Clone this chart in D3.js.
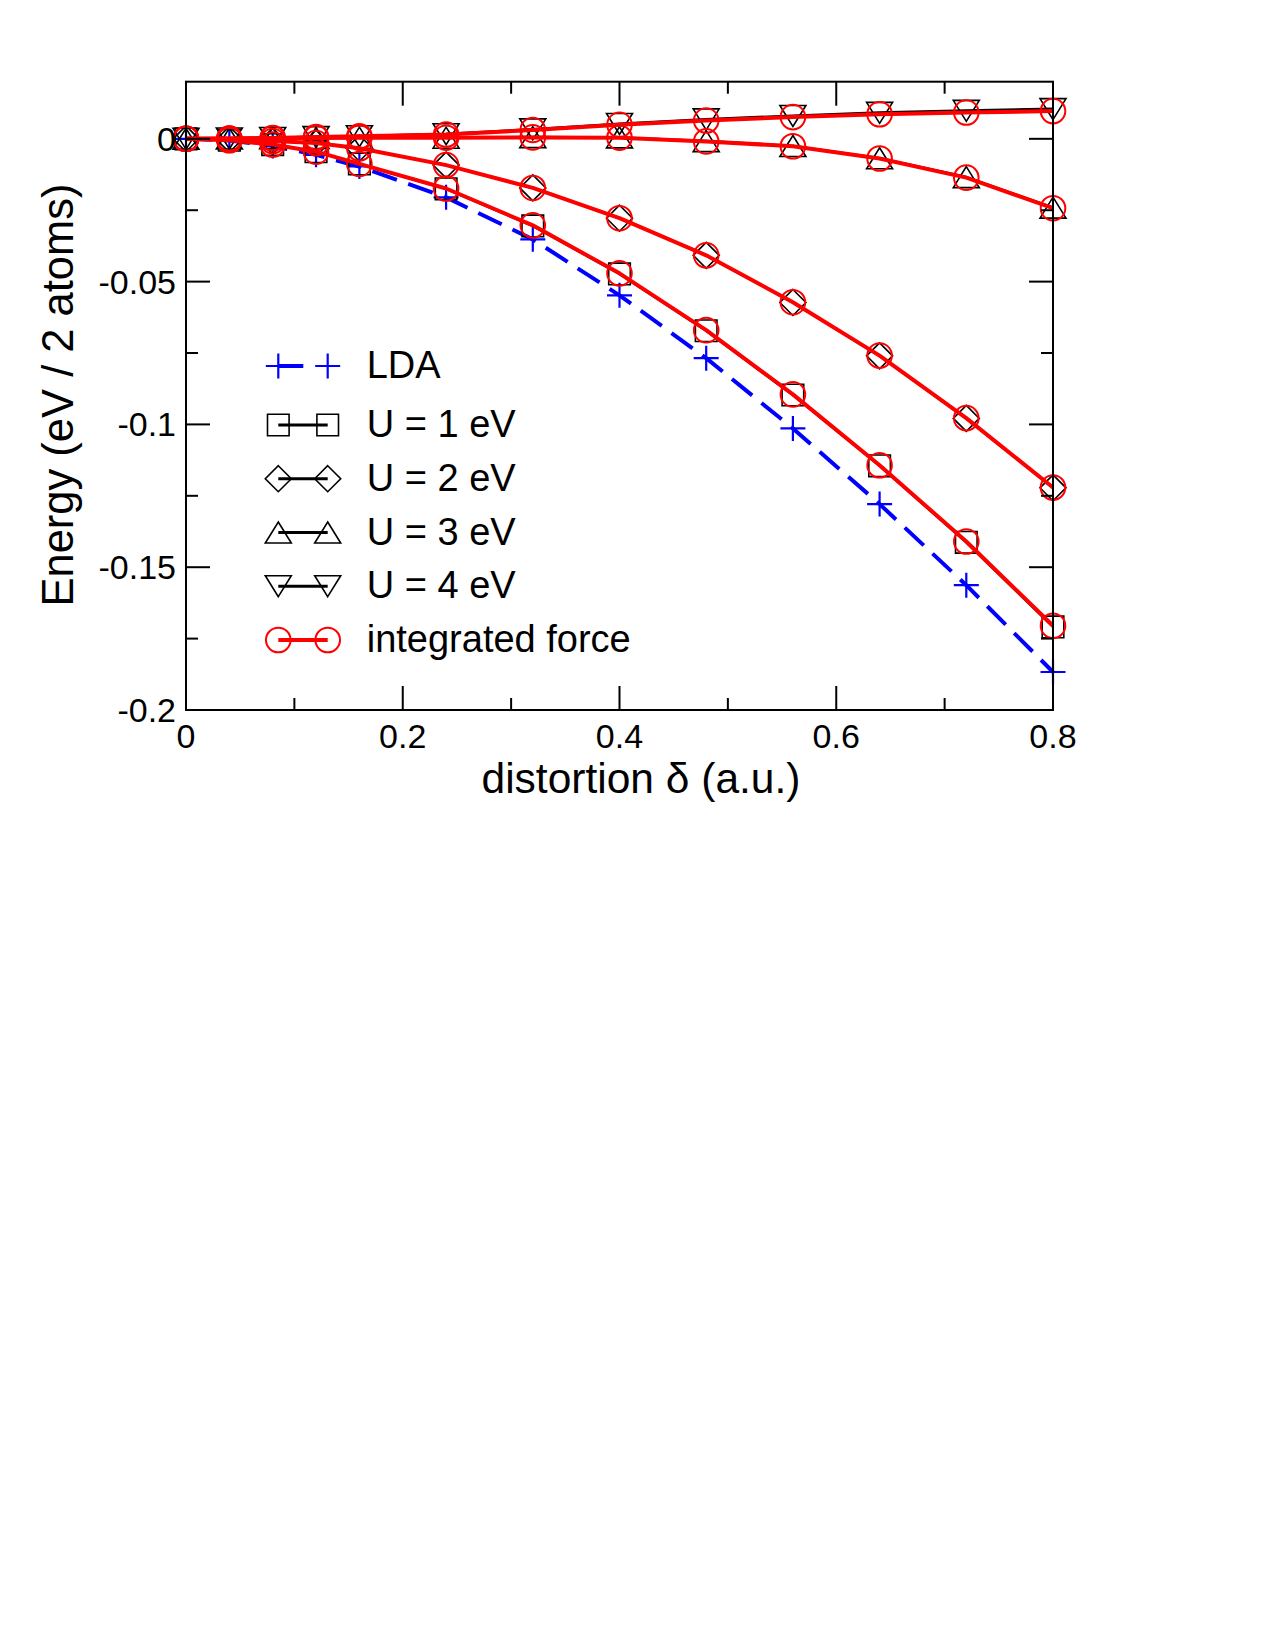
<!DOCTYPE html>
<html>
<head>
<meta charset="utf-8">
<script src="https://cdn.jsdelivr.net/npm/d3@7"></script>
<style>
  body { margin: 0; background: #fff; }
  text { font-family: "Liberation Sans", Arial, Helvetica, sans-serif; }
</style>
</head>
<body>
<svg id="chart" width="1275" height="1650"></svg>
<script>
// distortion values (a.u.)
const delta = [0, 0.04, 0.08, 0.12, 0.16, 0.24, 0.32, 0.40, 0.48, 0.56, 0.64, 0.72, 0.80];

// total energies (eV / 2 atoms)
const lda = [0, -0.0006, -0.0025, -0.0056, -0.0097, -0.0205, -0.0352, -0.0548, -0.0768, -0.1014, -0.1279, -0.1563, -0.1867];
const u1  = [0, -0.0005, -0.0020, -0.0045, -0.0088, -0.0175, -0.0305, -0.0473, -0.0672, -0.0897, -0.1145, -0.1413, -0.1709];
const u2  = [0, -0.0002, -0.0008, -0.0015, -0.0033, -0.0092, -0.0172, -0.0278, -0.0408, -0.0573, -0.0760, -0.0979, -0.1222];
const u3  = [0, 0.0001, 0.0002, 0.0003, 0.0004, 0.0004, 0.0006, 0.0005, -0.0008, -0.0025, -0.0068, -0.0134, -0.0241];
const u4  = [0, 0.0001, 0.0003, 0.0006, 0.0009, 0.0016, 0.0033, 0.0052, 0.0068, 0.0080, 0.0091, 0.0098, 0.0104];

// energies from integrated forces, one curve per U
const forceU1 = [0, -0.0005, -0.0020, -0.0045, -0.0088, -0.0174, -0.0303, -0.0471, -0.0670, -0.0895, -0.1143, -0.1410, -0.1705];
const forceU2 = [0, -0.0002, -0.0008, -0.0015, -0.0033, -0.0092, -0.0172, -0.0278, -0.0408, -0.0572, -0.0759, -0.0978, -0.1221];
const forceU3 = [0, 0.0001, 0.0002, 0.0003, 0.0004, 0.0004, 0.0005, 0.0004, -0.0009, -0.0026, -0.0069, -0.0136, -0.0243];
const forceU4 = [0, 0.0001, 0.0003, 0.0006, 0.0009, 0.0015, 0.0031, 0.0049, 0.0064, 0.0076, 0.0086, 0.0092, 0.0097];

// axis ticks
const xMajor = [0, 0.2, 0.4, 0.6, 0.8];
const xMinor = [0.1, 0.3, 0.5, 0.7];
const yMajor = [0, -0.05, -0.1, -0.15, -0.2];
const yMinor = [-0.025, -0.075, -0.125, -0.175];
const xTickLabels = ["0", "0.2", "0.4", "0.6", "0.8"];
const yTickLabels = ["0", "-0.05", "-0.1", "-0.15", "-0.2"];

const legendLabels = ["LDA", "U = 1 eV", "U = 2 eV", "U = 3 eV", "U = 4 eV", "integrated force"];

const svg = d3.select("#chart");

// plot frame
const plotLeft = 186, plotRight = 1053, plotTop = 81.7, plotBottom = 710;

const x = d3.scaleLinear().domain([0, 0.8]).range([plotLeft, plotRight]);
const y = d3.scaleLinear().domain([-0.2, 0.02]).range([plotBottom, plotTop]);

// marker shapes, sized like the original grace symbols
const shapes = {
    square:   "M-10.8,-10.8H10.8V10.8H-10.8Z",
    diamond:  "M0,-13L13,0L0,13L-13,0Z",
    up:       "M0,-10.5L13,10.5L-13,10.5Z",
    down:     "M0,10.5L13,-10.5L-13,-10.5Z",
    plus:     "M-12.5,0H12.5M0,-12.5V12.5",
    circle:   "M12.3,0A12.3,12.3 0 1,1 -12.3,0A12.3,12.3 0 1,1 12.3,0Z"
};

const line = d3.line()
    .x(d => x(d[0]))
    .y(d => y(d[1]));

function pairs(vals) {
    return delta.map((d, i) => [d, vals[i]]);
}

const plot = svg.append("g");

function drawSeries(vals, opts) {
    const pts = pairs(vals);
    plot.append("path")
        .attr("d", line(pts))
        .attr("fill", "none")
        .attr("stroke", opts.color)
        .attr("stroke-width", opts.lineWidth)
        .attr("stroke-dasharray", opts.dash || null)
        .attr("stroke-linejoin", "round");
    plot.append("g")
        .selectAll("path")
        .data(pts)
        .join("path")
        .attr("transform", d => `translate(${x(d[0])},${y(d[1])})`)
        .attr("d", shapes[opts.shape])
        .attr("fill", "none")
        .attr("stroke", opts.color)
        .attr("stroke-width", opts.markWidth);
}

// LDA first, then the DFT+U curves, red integrated-force curves on top
drawSeries(lda, { color: "#0000ff", lineWidth: 4, dash: "26,12", shape: "plus", markWidth: 2.2 });
drawSeries(u1, { color: "#000", lineWidth: 2.5, shape: "square", markWidth: 1.6 });
drawSeries(u2, { color: "#000", lineWidth: 2.5, shape: "diamond", markWidth: 1.6 });
drawSeries(u3, { color: "#000", lineWidth: 2.5, shape: "up", markWidth: 1.6 });
drawSeries(u4, { color: "#000", lineWidth: 3, shape: "down", markWidth: 1.6 });
[forceU1, forceU2, forceU3, forceU4].forEach(f =>
    drawSeries(f, { color: "#ff0000", lineWidth: 4, shape: "circle", markWidth: 2 }));

// frame and inward ticks on all four sides
const axes = svg.append("g").attr("stroke", "#000").attr("stroke-width", 2);
axes.append("rect")
    .attr("x", plotLeft).attr("y", plotTop)
    .attr("width", plotRight - plotLeft).attr("height", plotBottom - plotTop)
    .attr("fill", "none");

function xTicks(vals, len) {
    vals.forEach(v => {
        axes.append("line").attr("x1", x(v)).attr("x2", x(v)).attr("y1", plotBottom).attr("y2", plotBottom - len);
        axes.append("line").attr("x1", x(v)).attr("x2", x(v)).attr("y1", plotTop).attr("y2", plotTop + len);
    });
}
function yTicks(vals, len) {
    vals.forEach(v => {
        axes.append("line").attr("y1", y(v)).attr("y2", y(v)).attr("x1", plotLeft).attr("x2", plotLeft + len);
        axes.append("line").attr("y1", y(v)).attr("y2", y(v)).attr("x1", plotRight).attr("x2", plotRight - len);
    });
}
xTicks(xMajor, 24);
xTicks(xMinor, 12);
yTicks(yMajor, 24);
yTicks(yMinor, 12);

// tick labels
svg.append("g").selectAll("text")
    .data(xMajor)
    .join("text")
    .attr("x", d => x(d))
    .attr("y", plotBottom + 38)
    .attr("text-anchor", "middle")
    .attr("font-size", "34px")
    .text((d, i) => xTickLabels[i]);

svg.append("g").selectAll("text")
    .data(yMajor)
    .join("text")
    .attr("x", plotLeft - 10)
    .attr("y", d => y(d))
    .attr("dy", "0.35em")
    .attr("text-anchor", "end")
    .attr("font-size", "34px")
    .text((d, i) => yTickLabels[i]);

// axis titles
svg.append("text")
    .attr("x", 641)
    .attr("y", 793)
    .attr("text-anchor", "middle")
    .attr("font-size", "42.5px")
    .text("distortion δ (a.u.)");

svg.append("text")
    .attr("transform", "translate(73,395) rotate(-90)")
    .attr("text-anchor", "middle")
    .attr("font-size", "43.5px")
    .text("Energy (eV / 2 atoms)");

// legend
const legendItems = [
    { shape: "plus",    color: "#0000ff", width: 4,   dash: "25,40", mark: 2.2 },
    { shape: "square",  color: "#000",    width: 3,   mark: 1.6 },
    { shape: "diamond", color: "#000",    width: 3,   mark: 1.6 },
    { shape: "up",      color: "#000",    width: 3,   mark: 1.6 },
    { shape: "down",    color: "#000",    width: 3,   mark: 1.6 },
    { shape: "circle",  color: "#ff0000", width: 4,   mark: 2 }
];
const legX0 = 278.3, legX1 = 327.7;
// text baselines of the legend rows
const legBaselines = [378, 437, 490.7, 544.5, 598.2, 652];

const leg = svg.append("g");
legendItems.forEach((item, i) => {
    const base = legBaselines[i];
    const cy = base - 12;
    leg.append("line")
        .attr("x1", legX0).attr("x2", legX1)
        .attr("y1", cy).attr("y2", cy)
        .attr("stroke", item.color)
        .attr("stroke-width", item.width)
        .attr("stroke-dasharray", item.dash || null);
    [legX0, legX1].forEach(cx => {
        leg.append("path")
            .attr("transform", `translate(${cx},${cy})`)
            .attr("d", shapes[item.shape])
            .attr("fill", "none")
            .attr("stroke", item.color)
            .attr("stroke-width", item.mark);
    });
    leg.append("text")
        .attr("x", 366.7)
        .attr("y", base)
        .attr("font-size", "38px")
        .text(legendLabels[i]);
});
</script>
</body>
</html>
